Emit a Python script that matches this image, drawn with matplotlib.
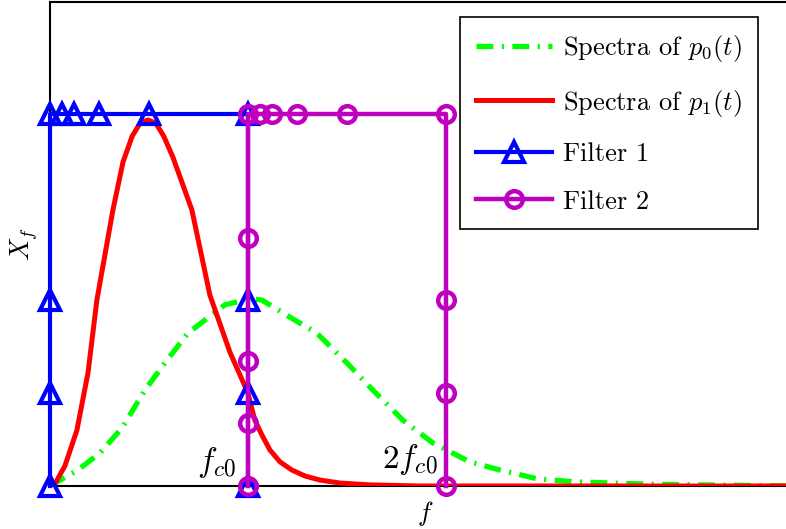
import matplotlib
matplotlib.use("Agg")
import matplotlib.pyplot as plt
import numpy as np

plt.rcParams['font.family'] = 'serif'
plt.rcParams['font.serif'] = ['cmr10']
plt.rcParams['mathtext.fontset'] = 'cm'
plt.rcParams['axes.formatter.use_mathtext'] = True

# Spectrum of p0(t) (green, dash-dot)
f_p0 = [0.0, 0.141, 0.253, 0.364, 0.48, 0.581, 0.697, 0.783, 0.884, 1.01, 1.07,
        1.212, 1.348, 1.5, 1.631, 1.783, 1.934, 2.121, 2.273, 2.465, 2.66, 2.84,
        3.03, 3.28, 3.8]
X_p0 = [0.0, 0.043, 0.089, 0.156, 0.258, 0.331, 0.411, 0.446, 0.487, 0.503, 0.5,
        0.454, 0.411, 0.331, 0.258, 0.177, 0.116, 0.065, 0.043, 0.019, 0.011, 0.008,
        0.005, 0.003, 0.0]

# Spectrum of p1(t) (red, solid)
f_p1 = [0.0, 0.03, 0.05, 0.076, 0.136, 0.192, 0.237, 0.318, 0.369, 0.415, 0.455,
        0.495, 0.535, 0.575, 0.621, 0.717, 0.808, 0.909, 1.0, 1.035, 1.071, 1.111,
        1.162, 1.222, 1.288, 1.364, 1.465, 1.616, 1.87, 3.8]
X_p1 = [0.0, 0.01, 0.03, 0.055, 0.15, 0.304, 0.5, 0.742, 0.871, 0.94, 0.975,
        0.984, 0.975, 0.94, 0.884, 0.742, 0.513, 0.36, 0.25, 0.177, 0.137, 0.097,
        0.065, 0.043, 0.027, 0.016, 0.008, 0.003, 0.0, 0.0]

# Filter 1 (blue, triangles)
f_filt1 = [0, 0, 0, 0, 0.06, 0.12, 0.25, 0.5, 1, 1, 1, 1]
X_filt1 = [0, 0.25, 0.5, 1, 1, 1, 1, 1, 1, 0.5, 0.25, 0]

# Filter 2 (magenta, circles)
f_filt2 = [1, 1, 1, 1, 1, 1.06, 1.12, 1.25, 1.5, 2, 2, 2, 2]
X_filt2 = [0, 0.17, 0.336, 0.667, 1, 1, 1, 1, 1, 1, 0.5, 0.25, 0]

legend_labels = [r'Spectra of $p_0(t)$', r'Spectra of $p_1(t)$', 'Filter 1', 'Filter 2']

W, H = 786, 529
fig = plt.figure(figsize=(W / 100, H / 100), dpi=100)
ax = fig.add_axes([50 / W, 43 / H, 750 / W, 484 / H])

ax.plot(f_p0, X_p0, color='#00ff00', lw=3.8, linestyle=(0, (3.2, 1.6, 0.4, 1.6)),
        label=legend_labels[0], zorder=2)
ax.plot(f_p1, X_p1, color='#ff0000', lw=3.6, label=legend_labels[1], zorder=3)
ax.plot(f_filt1, X_filt1, color='#0000ff', lw=3, marker='^', ms=15, mew=3,
        mfc='none', label=legend_labels[2], zorder=4, clip_on=False)
ax.plot(f_filt2, X_filt2, color='#bf00bf', lw=3.2, marker='o', ms=12, mew=3.2,
        mfc='none', label=legend_labels[3], zorder=5, clip_on=False)

ax.set_xlim(0, 3.79)
ax.set_ylim(0, 1.301)
ax.set_xticks([])
ax.set_yticks([])
for s in ['left', 'top', 'bottom']:
    ax.spines[s].set_linewidth(1.5)
ax.spines['right'].set_visible(False)

ax.text(0.94, 0.062, r'$f_{c0}$', fontsize=24, ha='right', va='center')
ax.text(1.96, 0.07, r'$2f_{c0}$', fontsize=24, ha='right', va='center')

ax.set_xlabel(r'$f$', fontsize=19, labelpad=9)
ax.set_ylabel(r'$X_f$', fontsize=19, labelpad=7)

leg = ax.legend(loc='upper left', bbox_to_anchor=(460 / W, 1 - 17 / H),
                bbox_transform=fig.transFigure, borderaxespad=0, fontsize=19,
                fancybox=False, framealpha=1, edgecolor='black', numpoints=1,
                handlelength=2.9, labelspacing=0.9, borderpad=0.6, handletextpad=0.4)
leg.get_frame().set_linewidth(1.2)

fig.savefig('out.png', dpi=100)
